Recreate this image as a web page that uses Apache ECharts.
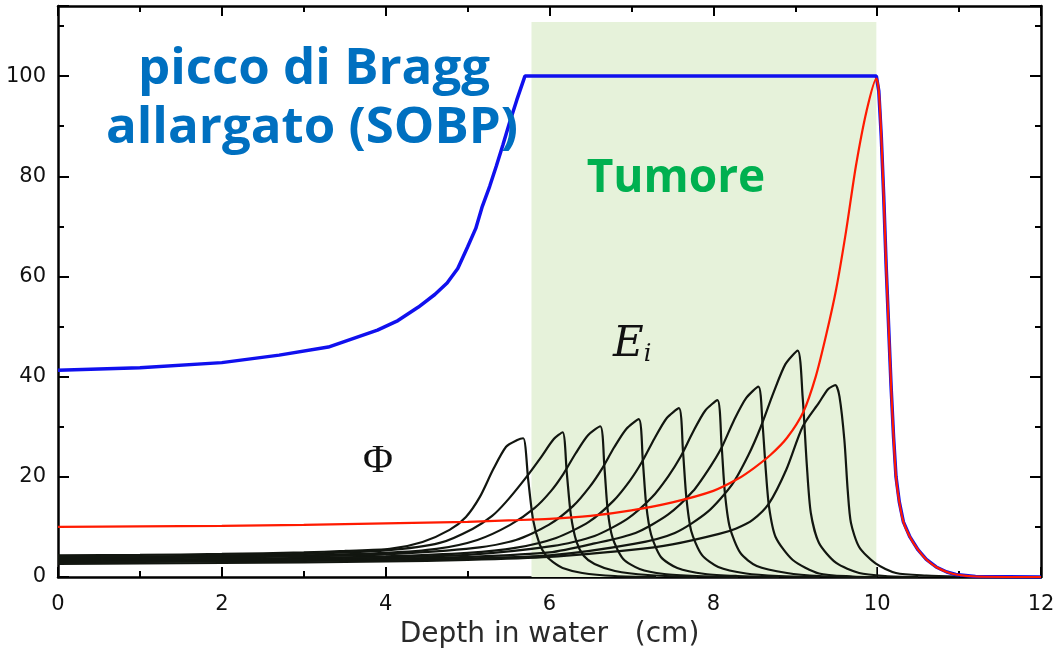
<!DOCTYPE html>
<html><head><meta charset="utf-8">
<script src="https://cdn.jsdelivr.net/npm/echarts@6/dist/echarts.min.js"></script>
<style>html,body{margin:0;padding:0;background:#fff}#c{width:1053px;height:651px}</style>
</head><body><div id="c"></div>
<script>
// ---- data (depth in cm, relative dose) ----
const xRange = [0, 12];
const yRange = [0, 114];
const tumorBand = [5.78, 9.99];
const tumorBandTop = 110.8;

const sobpDose = [[0,41.3],[1,41.8],[2,42.8],[2.7,44.3],[3.3,45.9],[3.9,49.3],[4.15,51.2],[4.4,53.9],[4.6,56.4],[4.75,58.7],[4.88,61.6],[5,65.9],[5.1,69.6],[5.18,74],[5.27,78],[5.35,82],[5.43,86.2],[5.51,90.6],[5.6,95.2],[5.7,100],[9.99,100],
  [10.02,97],[10.05,88],[10.08,76],[10.11,62],[10.14,50],[10.17,38],[10.2,28],[10.23,20],[10.27,15],[10.32,11],[10.4,8],[10.5,5.4],[10.6,3.5],[10.72,2],[10.85,1],[10.96,0.5],[11.2,0.1],[12,0]];

const deepestPeak = [[0,10],[1,10.1],[2,10.2],[3,10.4],[4,10.7],[5,11],[5.5,11.3],[6,11.6],[6.5,12.2],[7,13.3],[7.5,14.9],[8,17.2],[8.3,19.6],[8.5,21.8],[8.7,24.4],[8.9,27.8],[9.1,33],[9.25,40],[9.38,48.5],[9.5,57.5],[9.62,69],[9.74,82],[9.87,93],[9.99,99.5],
  [10.02,97],[10.05,88],[10.08,76],[10.11,62],[10.14,50],[10.17,38],[10.2,28],[10.23,20],[10.27,15],[10.32,11],[10.4,8],[10.5,5.4],[10.6,3.5],[10.72,2],[10.85,1],[10.96,0.5],[11.2,0.1],[12,0]];

const peak1 = [[0,4.3],[1,4.4],[2,4.6],[3,4.9],[3.5,5.2],[4.05,5.6],[4.45,7.0],[4.78,9.4],[4.98,12],[5.15,16],[5.31,21.4],[5.47,26],[5.6,27.3],[5.68,27.7],[5.74,19.4],[5.8,11.4],[5.88,6.5],[5.96,4.2],[6.04,3],[6.16,1.8],[6.4,0.8],[6.8,0.2],[7.3,0]];
const peak2 = [[0,4.0],[1,4.1],[2,4.3],[3,4.6],[4,5.3],[4.66,6.8],[5.06,9.6],[5.3,12.2],[5.47,15],[5.71,19.8],[5.9,24],[6.05,27.5],[6.16,28.9],[6.21,21],[6.26,12.5],[6.33,7],[6.42,4.2],[6.55,2.6],[6.8,1.2],[7.2,0.4],[7.8,0]];
const peak3 = [[0,3.8],[1,3.9],[2,4.1],[3,4.3],[4,4.8],[4.62,5.6],[5.12,7.4],[5.52,10.4],[5.82,13.8],[6.02,17.2],[6.17,20.6],[6.32,24.7],[6.47,28.3],[6.62,30.1],[6.67,22],[6.71,13.4],[6.77,7.8],[6.9,3.6],[7.1,1.6],[7.4,0.6],[7.8,0.2],[8.3,0]];
const peak4 = [[0,3.6],[1,3.7],[2,3.9],[3,4.1],[4,4.5],[5.09,5.8],[5.59,7.4],[5.99,10.4],[6.29,14.2],[6.49,18],[6.64,21.6],[6.79,25.9],[6.94,29.6],[7.09,31.5],[7.14,23],[7.18,14.5],[7.24,8.5],[7.36,4],[7.56,1.8],[7.9,0.6],[8.3,0.2],[8.8,0]];
const peak5 = [[0,3.4],[1,3.5],[2,3.6],[3,3.8],[4,4.1],[5,4.8],[5.58,5.8],[6.08,7.8],[6.48,11],[6.78,15.2],[6.98,19.2],[7.13,23],[7.28,27.6],[7.43,31.7],[7.58,33.7],[7.63,25],[7.67,16],[7.73,9.2],[7.86,4.4],[8.06,2],[8.4,0.7],[8.8,0.2],[9.3,0]];
const peak6 = [[0,3.2],[1,3.3],[2,3.4],[3,3.6],[4,3.9],[5,4.4],[6.05,6.2],[6.55,8.2],[6.95,11.6],[7.25,15.9],[7.45,20.1],[7.6,24],[7.75,28.9],[7.9,33.2],[8.05,35.3],[8.1,26.5],[8.14,17],[8.2,10],[8.33,4.8],[8.53,2.2],[8.9,0.8],[9.3,0.2],[9.8,0]];
const peak7 = [[0,3.0],[1,3.1],[2,3.2],[3,3.4],[4,3.6],[5,4.0],[6,4.9],[6.55,6.7],[7.05,8.8],[7.45,12.5],[7.75,17.1],[7.95,21.7],[8.1,25.8],[8.25,31.2],[8.4,35.7],[8.55,38],[8.6,30.7],[8.64,21.4],[8.68,14],[8.76,8],[8.97,3.4],[9.29,0.7],[9.7,0.1],[10,0]];
const peak8 = [[0,2.9],[1,3.0],[2,3.1],[3,3.2],[4,3.4],[5,3.7],[6,4.3],[7.03,6.6],[7.53,8.8],[7.93,13],[8.23,18.5],[8.43,24.4],[8.58,30],[8.73,36.6],[8.88,42.5],[9.03,45.2],[9.09,36],[9.14,22.7],[9.19,12.8],[9.29,6.8],[9.5,2.8],[9.78,0.8],[10.1,0.2],[10.5,0]];
const peak9 = [[0,2.6],[1,2.7],[2,2.8],[3,2.9],[4,3.1],[5,3.4],[6,4.0],[7,5.4],[7.5,6.5],[8.07,8.6],[8.28,9.7],[8.48,11.4],[8.68,14.7],[8.89,21.4],[9.09,30],[9.29,34.8],[9.4,37.5],[9.49,38.3],[9.54,36],[9.6,27.3],[9.64,17.4],[9.68,10.8],[9.78,6],[9.98,2.7],[10.23,0.8],[10.6,0.3],[11,0.1]];
const pristinePeaks = [peak1, peak2, peak3, peak4, peak5, peak6, peak7, peak8, peak9];

const titleLines = ['picco di Bragg', 'allargato (SOBP)'];
const tumorLabel = 'Tumore';
const xAxisName = 'Depth in water   (cm)';

// ---- chart ----
const chart = echarts.init(document.getElementById('c'), null, {renderer: 'canvas'});
const black = '#121610';
const frame = {show: true, onZero: false, lineStyle: {color: '#000', width: 2.5}};
const lbl = {fontFamily: 'DejaVu Sans', fontSize: 21, color: '#111'};

function line(data, color, width, z, smooth) {
  return {type: 'line', data, xAxisIndex: 0, yAxisIndex: 0, showSymbol: false, symbol: 'none',
    smooth: smooth, lineStyle: {color, width}, z, silent: true, animation: false};
}

const series = [];
series.push({type: 'line', data: [], xAxisIndex: 0, yAxisIndex: 0, showSymbol: false, z: 1, silent: true,
  markArea: {silent: true, itemStyle: {color: '#e6f2da'}, data: [[{xAxis: tumorBand[0], yAxis: 0}, {xAxis: tumorBand[1], yAxis: tumorBandTop}]]}});
pristinePeaks.forEach(p => series.push(line(p, black, 2.2, 3, 0.25)));
series.push(line(sobpDose, '#1010ee', 3.5, 4, false));
series.push(line(deepestPeak, '#ff1a00', 2.2, 5, 0.25));

const gridBox = {left: 58, right: 12, top: 6, bottom: 74, outerBoundsMode: 'none', containLabel: false};

const option = {
  animation: false,
  backgroundColor: '#fff',
  grid: [Object.assign({}, gridBox), Object.assign({}, gridBox)],
  xAxis: [
    {type: 'value', gridIndex: 0, position: 'bottom', min: xRange[0], max: xRange[1], interval: 2,
      axisLine: frame, axisTick: {inside: true, length: 10, lineStyle: {color: '#000', width: 2}},
      minorTick: {show: true, splitNumber: 2, length: 6, lineStyle: {color: '#000', width: 2}},
      splitLine: {show: false}, axisLabel: Object.assign({margin: 17}, lbl),
      name: xAxisName, nameLocation: 'middle', nameGap: 44,
      nameTextStyle: {fontFamily: 'DejaVu Sans', fontSize: 28, color: '#2a2a2a'}},
    {type: 'value', gridIndex: 0, position: 'top', min: xRange[0], max: xRange[1], interval: 2,
      axisLine: frame, axisTick: {inside: true, length: 10, lineStyle: {color: '#000', width: 2}},
      minorTick: {show: true, splitNumber: 2, length: 6, lineStyle: {color: '#000', width: 2}},
      splitLine: {show: false}, axisLabel: {show: false}},
    {type: 'value', gridIndex: 1, min: xRange[0], max: xRange[1], show: false}
  ],
  yAxis: [
    {type: 'value', gridIndex: 0, position: 'left', min: yRange[0], max: yRange[1], interval: 10,
      axisLine: frame, axisTick: {inside: true, length: 6, lineStyle: {color: '#000', width: 2}},
      splitLine: {show: false},
      axisLabel: Object.assign({margin: 12, showMaxLabel: false, formatter: v => (v % 20 === 0 && v <= 100) ? String(v) : ''}, lbl)},
    {type: 'value', gridIndex: 0, position: 'right', min: yRange[0], max: yRange[1], interval: 10,
      axisLine: frame, axisTick: {inside: true, length: 6, lineStyle: {color: '#000', width: 2}},
      splitLine: {show: false}, axisLabel: {show: false}},
    {type: 'value', gridIndex: 1, position: 'left', min: yRange[0], max: yRange[1], interval: 20,
      axisLine: {show: false, onZero: false}, axisTick: {inside: true, length: 11, lineStyle: {color: '#000', width: 2}},
      splitLine: {show: false}, axisLabel: {show: false}},
    {type: 'value', gridIndex: 1, position: 'right', min: yRange[0], max: yRange[1], interval: 20,
      axisLine: {show: false, onZero: false}, axisTick: {inside: true, length: 11, lineStyle: {color: '#000', width: 2}},
      splitLine: {show: false}, axisLabel: {show: false}}
  ],
  series,
  graphic: [
    {type: 'text', z: 10, style: {x: 314, y: 95, text: titleLines[0], textAlign: 'center', textVerticalAlign: 'bottom',
      font: 'bold 51px "Open Sans"', fill: '#0070c0'}},
    {type: 'text', z: 10, style: {x: 312, y: 154, text: titleLines[1], textAlign: 'center', textVerticalAlign: 'bottom',
      font: 'bold 51px "Open Sans"', fill: '#0070c0'}},
    {type: 'text', z: 10, style: {x: 676, y: 179, text: tumorLabel, textAlign: 'center', textVerticalAlign: 'middle',
      font: 'bold 46px "Open Sans"', fill: '#00b050'}},
    {type: 'text', z: 10, style: {x: 613, y: 345, text: '{e|E}{s|i}', textVerticalAlign: 'middle',
      rich: {e: {font: 'italic 42px "DejaVu Serif"', fill: '#111'}, s: {font: 'italic 24px "DejaVu Serif"', fill: '#111', padding: [20, 0, 0, 0]}}}},
    {type: 'text', z: 10, style: {x: 378, y: 461, text: 'Φ', textAlign: 'center', textVerticalAlign: 'middle',
      font: '41px "Liberation Serif"', fill: '#111'}}
  ]
};
chart.setOption(option);
</script></body></html>
